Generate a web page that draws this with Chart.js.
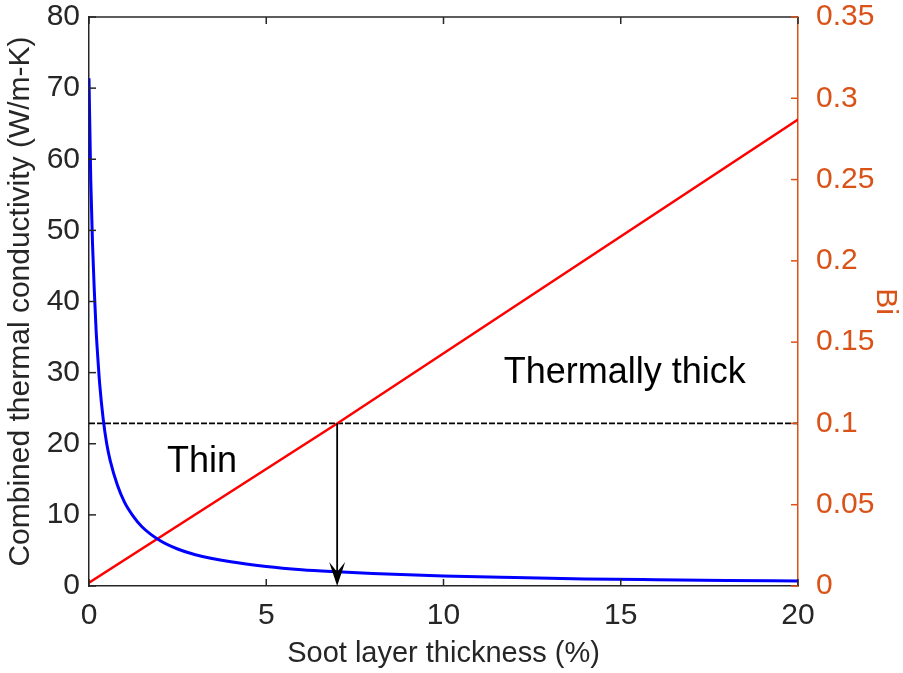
<!DOCTYPE html>
<html>
<head>
<meta charset="utf-8">
<script src="https://cdn.jsdelivr.net/npm/chart.js@4.4.1/dist/chart.umd.min.js"></script>
<style>
  html, body { margin: 0; padding: 0; background: #ffffff; }
  #wrap { width: 903px; height: 673px; }
</style>
</head>
<body>
<div id="wrap"><canvas id="c" width="903" height="673"></canvas></div>
<script>
// ---- data ----
const sootThickness = [0, 0.05, 0.1, 0.15, 0.2, 0.25, 0.3, 0.4, 0.5, 0.6, 0.8, 1, 1.25, 1.5, 2, 2.5, 3, 4, 5, 6, 7, 8, 10, 12, 14, 16, 18, 20];
const combinedConductivity = [71.4, 57, 48, 41.5, 36, 32, 28.5, 23.5, 20, 17.6, 14.2, 11.8, 9.8, 8.3, 6.4, 5.2, 4.4, 3.4, 2.75, 2.3, 2.0, 1.75, 1.4, 1.18, 1.0, 0.88, 0.78, 0.7];
const biThickness = [0, 7, 20];
const biotNumber = [0.002, 0.1, 0.287];
const thresholdX = [0, 20];
const thresholdBi = [0.1, 0.1];
const arrowAtThickness = 7;
const xTicks = [0, 5, 10, 15, 20];
const leftTicks = [0, 10, 20, 30, 40, 50, 60, 70, 80];
const rightTicks = [0, 0.05, 0.1, 0.15, 0.2, 0.25, 0.3, 0.35];
const annotations = [
  { text: 'Thin', x: 2.2, y: 17.4 },
  { text: 'Thermally thick', x: 11.7, y: 30.0 }
];

const ORANGE = '#D95319';
const FONT = 'Liberation Sans, Arial, sans-serif';

function pairs(xs, ys) { return xs.map((x, i) => ({ x: x, y: ys[i] })); }

const box = { left: 89, right: 798, top: 17, bottom: 586 };
const W = 903, H = 673;

const decorPlugin = {
  id: 'decor',
  afterDatasetsDraw(chart) {
    const ctx = chart.ctx;
    const xs = chart.scales.x, yl = chart.scales.y, yr = chart.scales.y2;
    const a = chart.chartArea;
    const tl = 7;
    ctx.save();
    // top border
    ctx.strokeStyle = '#262626';
    ctx.lineWidth = 1.5;
    ctx.beginPath(); ctx.moveTo(a.left, a.top); ctx.lineTo(a.right, a.top); ctx.stroke();
    // x ticks (bottom and top, inward)
    xTicks.forEach(v => {
      const px = xs.getPixelForValue(v);
      ctx.beginPath();
      ctx.moveTo(px, a.bottom); ctx.lineTo(px, a.bottom - tl);
      ctx.moveTo(px, a.top); ctx.lineTo(px, a.top + tl);
      ctx.stroke();
    });
    // left ticks
    leftTicks.forEach(v => {
      const py = yl.getPixelForValue(v);
      ctx.beginPath(); ctx.moveTo(a.left, py); ctx.lineTo(a.left + tl, py); ctx.stroke();
    });
    // right ticks
    ctx.strokeStyle = ORANGE;
    rightTicks.forEach(v => {
      const py = yr.getPixelForValue(v);
      ctx.beginPath(); ctx.moveTo(a.right, py); ctx.lineTo(a.right - tl, py); ctx.stroke();
    });
    // arrow
    const ax = xs.getPixelForValue(arrowAtThickness);
    const ay0 = yr.getPixelForValue(thresholdBi[0]);
    const ay1 = yl.getPixelForValue(0);
    ctx.strokeStyle = '#000';
    ctx.fillStyle = '#000';
    ctx.lineWidth = 1.8;
    ctx.beginPath(); ctx.moveTo(ax, ay0); ctx.lineTo(ax, ay1 - 10); ctx.stroke();
    ctx.beginPath();
    ctx.moveTo(ax, ay1);
    ctx.lineTo(ax - 8, ay1 - 24);
    ctx.lineTo(ax, ay1 - 14);
    ctx.lineTo(ax + 8, ay1 - 24);
    ctx.closePath();
    ctx.fill();
    // annotations
    ctx.fillStyle = '#000';
    ctx.font = '36px ' + FONT;
    ctx.textAlign = 'left';
    ctx.textBaseline = 'middle';
    annotations.forEach(t => {
      ctx.fillText(t.text, xs.getPixelForValue(t.x), yl.getPixelForValue(t.y));
    });
    ctx.restore();
  }
};

new Chart(document.getElementById('c'), {
  type: 'line',
  data: {
    datasets: [
      {
        label: 'Combined thermal conductivity',
        data: pairs(sootThickness, combinedConductivity),
        borderColor: '#0000FF',
        borderWidth: 3,
        pointRadius: 0,
        cubicInterpolationMode: 'monotone',
        yAxisID: 'y'
      },
      {
        label: 'Bi',
        data: pairs(biThickness, biotNumber),
        borderColor: '#FF0000',
        borderWidth: 2.5,
        pointRadius: 0,
        yAxisID: 'y2'
      },
      {
        label: 'Bi = 0.1',
        data: pairs(thresholdX, thresholdBi),
        borderColor: '#000000',
        borderWidth: 1.8,
        borderDash: [6, 2],
        pointRadius: 0,
        yAxisID: 'y2'
      }
    ]
  },
  options: {
    responsive: false,
    animation: false,
    devicePixelRatio: 1,
    layout: { padding: { top: box.top, left: 0, right: 0, bottom: 0 } },
    plugins: { legend: { display: false }, tooltip: { enabled: false } },
    scales: {
      x: {
        type: 'linear',
        min: 0, max: 20,
        afterBuildTicks(s) { s.ticks = xTicks.map(v => ({ value: v })); },
        afterFit(s) { s.height = H - box.bottom; s.paddingLeft = 0; s.paddingRight = 0; },
        grid: { display: false, drawTicks: false },
        border: { display: true, color: '#262626', width: 1.5 },
        ticks: { color: '#262626', font: { family: FONT, size: 30 }, padding: 12, maxRotation: 0 },
        title: { display: true, text: 'Soot layer thickness (%)', color: '#262626', font: { family: FONT, size: 29 }, padding: { top: 0, bottom: 2 } }
      },
      y: {
        position: 'left',
        min: 0, max: 80,
        afterBuildTicks(s) { s.ticks = leftTicks.map(v => ({ value: v })); },
        afterFit(s) { s.width = box.left; s.paddingTop = 0; s.paddingBottom = 0; },
        grid: { display: false, drawTicks: false },
        border: { display: true, color: '#262626', width: 1.5 },
        ticks: { color: '#262626', font: { family: FONT, size: 30 }, padding: 9 },
        title: { display: true, text: 'Combined thermal conductivity (W/m-K)', color: '#262626', font: { family: FONT, size: 30 }, padding: { top: 3, bottom: 0 } }
      },
      y2: {
        position: 'right',
        min: 0, max: 0.35,
        afterBuildTicks(s) { s.ticks = rightTicks.map(v => ({ value: v })); },
        afterFit(s) { s.width = W - box.right; s.paddingTop = 0; s.paddingBottom = 0; },
        grid: { display: false, drawTicks: false },
        border: { display: true, color: ORANGE, width: 1.5 },
        ticks: {
          color: ORANGE, font: { family: FONT, size: 30 }, padding: 18,
          callback: v => String(Number(v.toFixed(2)))
        },
        title: { display: true, text: 'Bi', color: ORANGE, font: { family: FONT, size: 30 }, padding: { top: 0, bottom: 0 } }
      }
    }
  },
  plugins: [decorPlugin]
});
</script>
</body>
</html>
